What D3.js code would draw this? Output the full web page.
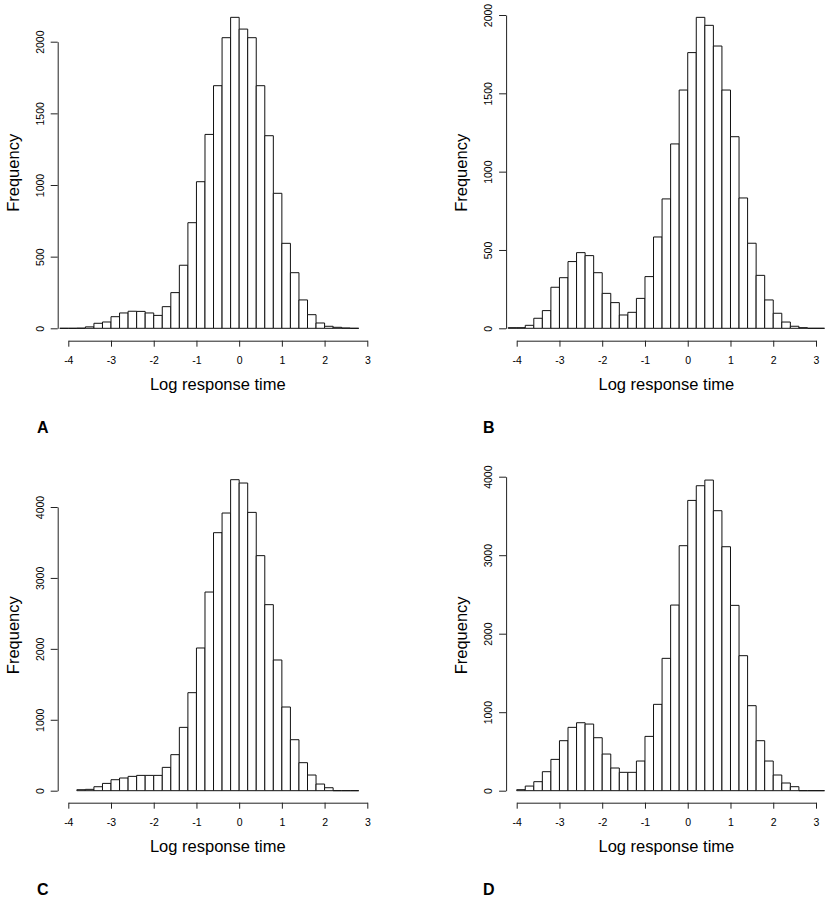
<!DOCTYPE html>
<html>
<head>
<meta charset="utf-8">
<script src="https://cdn.jsdelivr.net/npm/d3@7"></script>
<style>
  body { margin: 0; background: #fff; }
  text { font-family: "Liberation Sans", Arial, sans-serif; fill: #000; }
</style>
</head>
<body>
<div id="chart"></div>
<script>
// bin width and x ticks shared by all four histograms
var binWidth = 0.2;
var xTicks = [-4, -3, -2, -1, 0, 1, 2, 3];
var yTicksSmall = [0, 500, 1000, 1500, 2000];
var yTicksLarge = [0, 1000, 2000, 3000, 4000];

// counts per 0.2 bin; first bin starts at the given value
var startA = -4.2;
var countsA = [0, 0, 1, 10, 35, 44, 81, 107, 119, 118, 107, 90, 151, 249, 440, 737, 1023, 1353,
  1693, 2028, 2170, 2088, 2028, 1693, 1344, 942, 593, 388, 198, 95, 37, 14, 7, 2, 0];

var startB = -4.2;
var countsB = [4, 4, 19, 64, 113, 262, 323, 426, 483, 464, 355, 223, 164, 85, 102, 191, 330, 583,
  826, 1177, 1521, 1760, 1985, 1934, 1802, 1521, 1223, 832, 543, 338, 181, 96, 40, 13, 4, 0, 0];

var startC = -3.8;
var countsC = [14, 19, 56, 103, 155, 179, 202, 216, 216, 216, 329, 508, 893, 1382, 2012, 2801,
  3638, 3915, 4385, 4338, 3924, 3314, 2623, 1843, 1180, 719, 395, 221, 94, 42, 0, 0, 0];

var startD = -4.0;
var countsD = [13, 59, 115, 242, 399, 637, 807, 866, 849, 675, 467, 289, 234, 234, 378, 692, 1100,
  1686, 2365, 3121, 3698, 3885, 3957, 3567, 3108, 2361, 1720, 1083, 637, 378, 200, 98, 51, 0, 0, 0];

var svg = d3.select("#chart")
  .append("svg")
  .attr("width", 829)
  .attr("height", 905);

// layout of each panel (pixel positions of -4 / 3 on x, of 0 / top tick on y)
var panels = [
  { letter: "A", start: startA, counts: countsA, yTicks: yTicksSmall,
    xRange: [68.3, 367.3], yRange: [328.3, 41.7], axisY: 340.7, letterPos: [37, 433] },
  { letter: "B", start: startB, counts: countsB, yTicks: yTicksSmall,
    xRange: [516.7, 816], yRange: [328.3, 15], axisY: 340.7, letterPos: [483, 433] },
  { letter: "C", start: startC, counts: countsC, yTicks: yTicksLarge,
    xRange: [68.3, 367.3], yRange: [790.7, 507], axisY: 802.7, letterPos: [37, 895] },
  { letter: "D", start: startD, counts: countsD, yTicks: yTicksLarge,
    xRange: [516.7, 816], yRange: [790.7, 476.7], axisY: 802.7, letterPos: [483, 895] }
];

panels.forEach(function(p) {
  var g = svg.append("g");

  var x = d3.scaleLinear()
    .domain([xTicks[0], xTicks[xTicks.length - 1]])
    .range(p.xRange);

  var y = d3.scaleLinear()
    .domain([0, p.yTicks[p.yTicks.length - 1]])
    .range(p.yRange);

  var bins = p.counts.map(function(c, i) {
    var x0 = +(p.start + i * binWidth).toFixed(1);
    return { x0: x0, x1: x0 + binWidth, count: c };
  });

  // bars as paths so that empty bins still show as a flat line
  g.selectAll("path.bar")
    .data(bins)
    .enter()
    .append("path")
    .attr("class", "bar")
    .attr("d", function(d) {
      var path = d3.path();
      path.moveTo(x(d.x0), y(0));
      path.lineTo(x(d.x0), y(d.count));
      path.lineTo(x(d.x1), y(d.count));
      path.lineTo(x(d.x1), y(0));
      path.closePath();
      return path.toString();
    })
    .attr("fill", "#fff")
    .attr("stroke", "#111")
    .attr("stroke-width", 1);

  // x axis, detached below the bars as in R
  var xAxis = g.append("g")
    .attr("transform", `translate(0, ${p.axisY})`)
    .call(d3.axisBottom(x).tickValues(xTicks).tickSize(6).tickSizeOuter(0)
      .tickFormat(function(d) { return d < 0 ? "-" + Math.abs(d) : d; }));
  xAxis.selectAll("text")
    .attr("y", 23)
    .attr("dy", 0)
    .style("font-size", "10.5px");

  // y axis with labels parallel to the axis
  var yAxis = g.append("g")
    .attr("transform", `translate(${p.xRange[0] - 10.6}, 0)`)
    .call(d3.axisLeft(y).tickValues(p.yTicks).tickSize(7).tickSizeOuter(0)
      .tickFormat(d3.format("d")));
  yAxis.selectAll("text")
    .attr("transform", "rotate(-90)")
    .attr("x", 0)
    .attr("y", -14)
    .attr("dy", 0)
    .attr("text-anchor", "middle")
    .style("font-size", "10.5px");

  svg.selectAll(".domain, .tick line")
    .attr("stroke", "#222")
    .attr("stroke-width", 1);
  svg.selectAll(".tick text").attr("fill", "#000");

  // axes labels
  g.append("text")
    .attr("x", x(-0.5))
    .attr("y", p.axisY + 49)
    .attr("text-anchor", "middle")
    .style("font-size", "16.5px")
    .text("Log response time");

  var yMid = (p.yRange[0] + y(d3.max(p.counts))) / 2;
  g.append("text")
    .attr("transform", `translate(${p.xRange[0] - 10.6 - 39}, ${yMid}) rotate(-90)`)
    .attr("text-anchor", "middle")
    .style("font-size", "16.5px")
    .text("Frequency");

  g.append("text")
    .attr("x", p.letterPos[0])
    .attr("y", p.letterPos[1])
    .style("font-size", "16px")
    .style("font-weight", "bold")
    .text(p.letter);
});
</script>
</body>
</html>
